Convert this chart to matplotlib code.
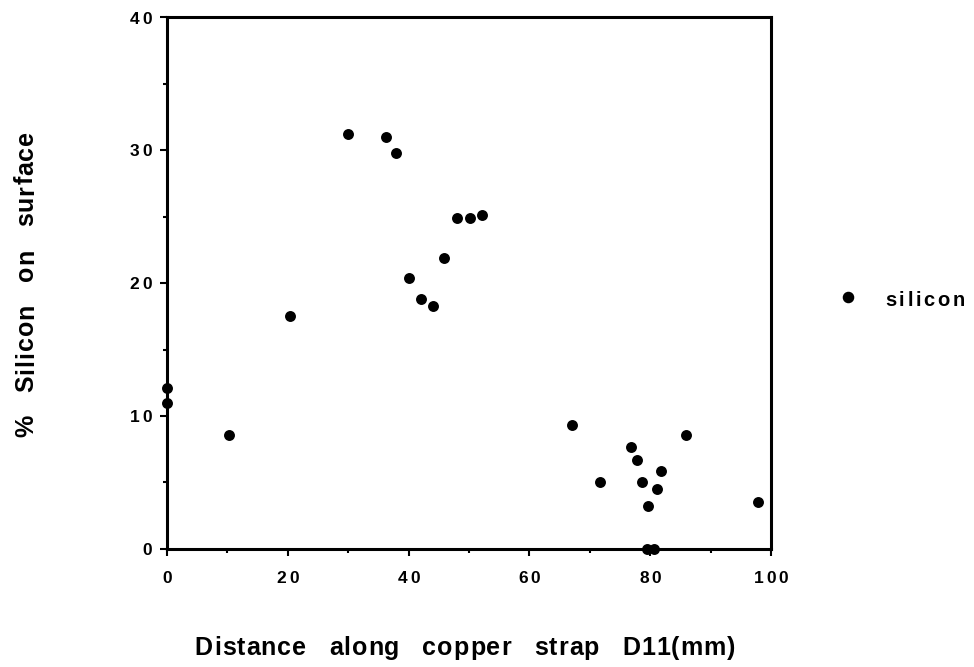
import matplotlib
matplotlib.use("Agg")
import matplotlib.pyplot as plt
from matplotlib.ticker import MultipleLocator
from matplotlib.transforms import IdentityTransform

distance = [0.0, 0.0, 10.2, 20.3, 30.0, 36.2, 37.9, 40.0, 42.1, 44.1, 45.9,
            48.0, 50.1, 52.2, 67.0, 71.7, 76.9, 77.9, 78.6, 79.4, 79.6, 80.6,
            81.1, 81.8, 86.0, 97.9]
silicon = [12.1, 11.0, 8.6, 17.5, 31.2, 31.0, 29.8, 20.4, 18.8, 18.3, 21.9,
           24.9, 24.9, 25.1, 9.3, 5.0, 7.7, 6.7, 5.0, 0.0, 3.2, 0.0,
           4.5, 5.9, 8.6, 3.5]
x_ticks = [0, 20, 40, 60, 80, 100]
y_ticks = [0, 10, 20, 30, 40]
x_label = 'Distance along copper strap D11(mm)'
y_label = '% Silicon on surface'
series_name = 'silicon'

plt.rcParams['font.family'] = ['Liberation Sans', 'DejaVu Sans']

fig = plt.figure(figsize=(9.74, 6.67), dpi=100)
ax = fig.add_axes([0.1715, 0.177, 0.620, 0.797])
renderer = fig.canvas.get_renderer()
H = fig.bbox.height


def tracked(x, y, s, size, track, space, ha='center', rotation=0):
    """Draw letter-spaced text; (x, y) in pixels from top-left, centre of the
    cap height line along the text direction."""
    widths = []
    for ch in s:
        if ch == ' ':
            widths.append(space)
        else:
            t = fig.text(0, 0, ch, fontsize=size, fontweight='bold')
            widths.append(t.get_window_extent(renderer).width)
            t.remove()
    total = sum(widths) + track * (len(s) - 1)
    if ha == 'center':
        start = -total / 2
    elif ha == 'left':
        start = 0
    else:
        start = -total
    cap = size * 100 / 72 * 0.72
    pos = start
    for ch, w in zip(s, widths):
        if ch != ' ':
            if rotation == 0:
                px, py = x + pos, H - y - cap / 2
            else:
                px, py = x + cap / 2, H - y + pos
            fig.text(px, py, ch, fontsize=size, fontweight='bold',
                     ha='left', va='baseline', rotation=rotation,
                     rotation_mode='anchor', transform=IdentityTransform())
        pos += w + track


ax.scatter(distance, silicon, s=62, color='black', zorder=3, clip_on=False,
           linewidths=0)

ax.set_xlim(0, 100)
ax.set_ylim(0, 40)
ax.set_xticks(x_ticks)
ax.set_yticks(y_ticks)
ax.set_xticklabels([])
ax.set_yticklabels([])
ax.xaxis.set_minor_locator(MultipleLocator(10))
ax.yaxis.set_minor_locator(MultipleLocator(5))
ax.tick_params(which='major', direction='out', length=5, width=1.5)
ax.tick_params(which='minor', direction='out', length=3, width=1.5)
for sp in ax.spines.values():
    sp.set_linewidth(2.2)

# tick labels (letter-spaced, placed at tick positions)
for v in x_ticks:
    px, py = ax.transData.transform((v, 0))
    tracked(px, H - py + 28, str(v), 12.5, 3.0, 5)
for v in y_ticks:
    px, py = ax.transData.transform((0, v))
    tracked(px - 15, H - py, str(v), 12.5, 3.0, 5, ha='right')

tracked(465, 646, x_label, 18, 1.0, 21)
tracked(24, 284, y_label, 18, 1.0, 21, rotation=90)

# legend
fig.lines.append(plt.Line2D([848 / 974], [1 - 297 / 667], marker='o',
                            markersize=7.3, color='black', linestyle='none',
                            transform=fig.transFigure))
tracked(885, 299, series_name, 14.5, 2.7, 6, ha='left')

fig.savefig('out.png', dpi=100)
